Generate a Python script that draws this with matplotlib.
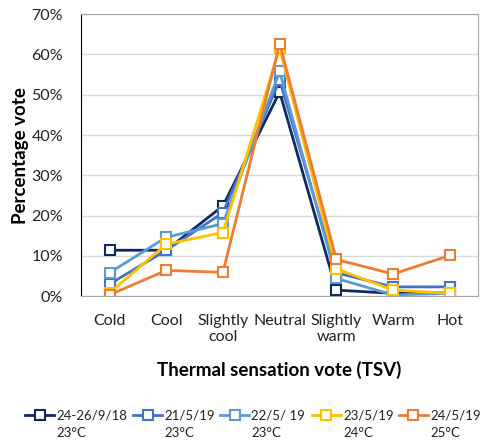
import matplotlib.pyplot as plt
import matplotlib.ticker as mticker
from matplotlib.lines import Line2D
import numpy as np

plt.rcParams['font.family'] = ['Lato', 'DejaVu Sans']

# ---- data
categories = ['Cold', 'Cool', 'Slightly\ncool', 'Neutral', 'Slightly\nwarm', 'Warm', 'Hot']
series_dates = ['24-26/9/18', '21/5/19', '22/5/ 19', '23/5/19', '24/5/19']
series_temps = ['23°C', '23°C', '23°C', '24°C', '25°C']
sep18 = [11.4, 11.4, 22.4, 50.7, 1.5, 0.7, 0.8]
may21 = [3.0, 11.4, 20.7, 53.6, 5.8, 2.3, 2.3]
may22 = [5.8, 14.6, 18.0, 55.8, 4.4, 0.3, 0.7]
may23 = [0.8, 12.9, 15.8, 61.5, 6.8, 1.5, 0.7]
may24 = [0.3, 6.4, 5.9, 62.7, 9.1, 5.5, 10.1]
colors = ['#0b2a63', '#4472c4', '#5b9bd5', '#ffc000', '#ed7d31']

W, H = 483, 444
fig = plt.figure(figsize=(W / 100, H / 100), dpi=100)
ax = fig.add_axes([0.168, 0.333, 0.822, 0.635])

x = np.arange(len(categories))
for vals, c in zip([sep18, may21, may22, may23, may24], colors):
    ax.plot(x, vals, color=c, lw=2, marker='s', ms=7, mfc='white', mec=c, mew=1.5)

ax.set_xlim(-0.5, 6.5)
ax.set_ylim(0, 70)
ax.set_yticks(np.arange(0, 71, 10))
ax.yaxis.set_major_formatter(mticker.FuncFormatter(lambda v, p: '%d%%' % v))
ax.set_xticks(x)
ax.set_xticklabels(categories)
ax.tick_params(axis='both', length=0, labelsize=11.5, colors='#222222')
ax.tick_params(axis='y', pad=13)
ax.tick_params(axis='x', pad=13)
ax.grid(axis='y', color='#d9d9d9', lw=1)
ax.set_axisbelow(True)
for s in ['top', 'right', 'bottom']:
    ax.spines[s].set_color('#a6a6a6')
ax.spines['left'].set_color('#000000')

ax.set_ylabel('Percentage vote', fontsize=13.5, fontweight='bold', labelpad=2)
ax.set_xlabel('Thermal sensation vote (TSV)', fontsize=13.5, fontweight='bold', labelpad=12)

# ---- legend laid out by hand: handle, date, temperature underneath
leg_left = [25, 133, 220, 312, 399]
y1 = 1 - 415 / H
y2 = 1 - 433 / H
for xl, c, d, t in zip(leg_left, colors, series_dates, series_temps):
    x0, x1 = xl / W, (xl + 29) / W
    fig.add_artist(Line2D([x0, x1], [y1, y1], color=c, lw=2, transform=fig.transFigure))
    fig.add_artist(Line2D([(x0 + x1) / 2], [y1], marker='s', ms=7, mfc='white', mec=c,
                          mew=1.5, transform=fig.transFigure))
    fig.text((xl + 31) / W, y1, d, fontsize=9.5, ha='left', va='center', color='#222222')
    fig.text((xl + 31) / W, y2, t, fontsize=9.5, ha='left', va='center', color='#222222')

fig.savefig('out.png', dpi=100)
